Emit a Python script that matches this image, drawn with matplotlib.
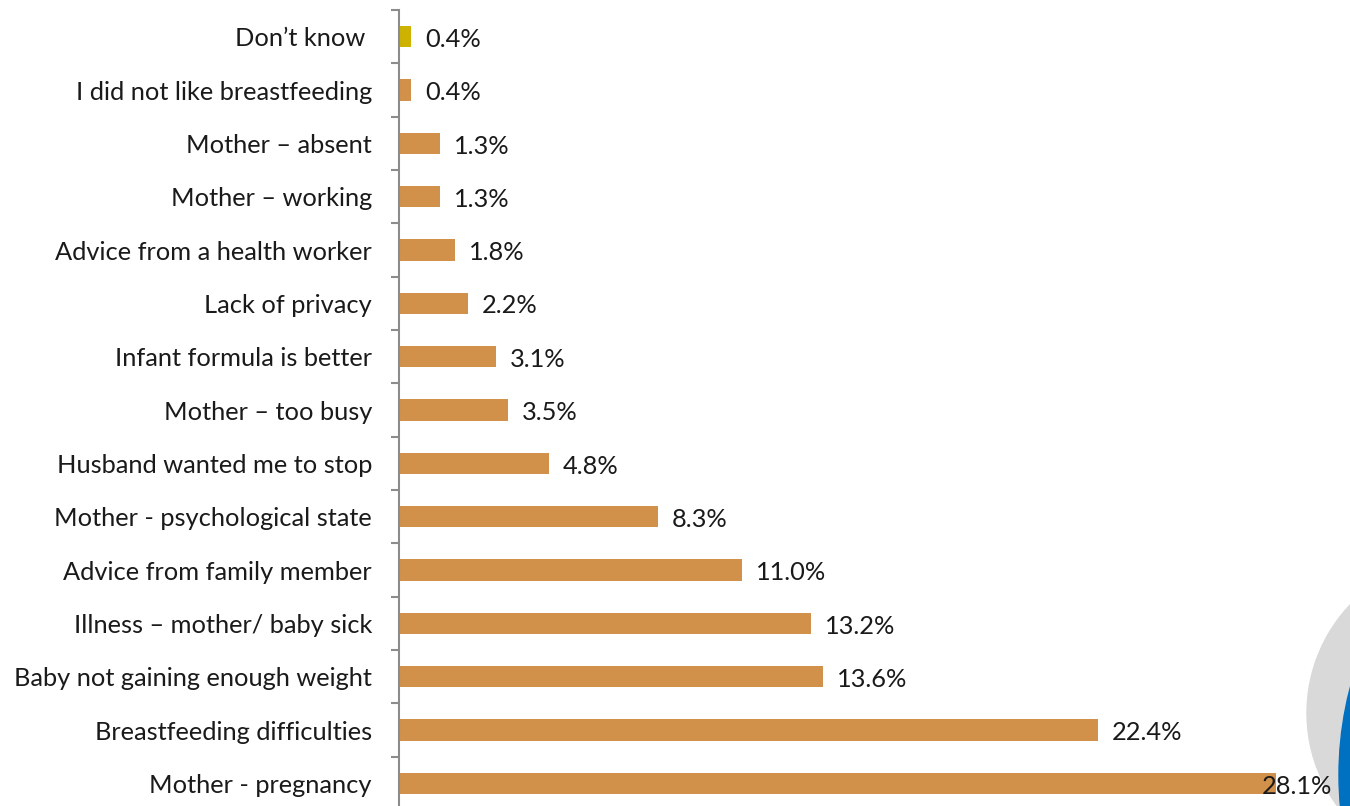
import matplotlib
matplotlib.use("Agg")
import matplotlib.pyplot as plt
from matplotlib.patches import Circle
import numpy as np

categories = ["Don\u2019t know ", "I did not like breastfeeding", "Mother \u2013 absent",
              "Mother \u2013 working", "Advice from a health worker", "Lack of privacy",
              "Infant formula is better", "Mother \u2013 too busy", "Husband wanted me to stop",
              "Mother - psychological state", "Advice from family member",
              "Illness \u2013 mother/ baby sick", "Baby not gaining enough weight",
              "Breastfeeding difficulties", "Mother - pregnancy"]
values = [0.4, 0.4, 1.3, 1.3, 1.8, 2.2, 3.1, 3.5, 4.8, 8.3, 11.0, 13.2, 13.6, 22.4, 28.1]
labels = ["0.4%", "0.4%", "1.3%", "1.3%", "1.8%", "2.2%", "3.1%", "3.5%", "4.8%",
          "8.3%", "11.0%", "13.2%", "13.6%", "22.4%", "28.1%"]
colors = ["#CDB300"] + ["#D2914B"] * 14

plt.rcParams['font.family'] = ['Lato', 'DejaVu Sans']
W, H = 1350, 806
fig = plt.figure(figsize=(W / 100, H / 100), dpi=100)

# decorative circles bottom-right
fig.patches.append(Circle((1464, H - 713), 157, transform=None, color="#D9D9D9", zorder=-2))
fig.patches.append(Circle((1684, H - 775), 345, transform=None, color="#0070C0", zorder=-1))

ax = fig.add_axes([399 / W, 1 - 810 / H, 936 / W, 800 / H])
y = np.arange(len(categories))
ax.barh(y, values, height=0.4, color=colors)
ax.set_xlim(0, 30)
ax.set_ylim(len(categories) - 0.5, -0.5)
ax.set_yticks(y)
ax.set_yticklabels(categories, fontsize=18.3, color="#1A1A1A")
ax.set_yticks(np.arange(-0.5, len(categories), 1), minor=True)
ax.tick_params(axis='y', which='major', length=0, pad=19.5)
ax.tick_params(axis='y', which='minor', length=6, width=1.5, color="#8C8C8C")
ax.set_xticks([])
for s in ['top', 'right', 'bottom']:
    ax.spines[s].set_visible(False)
ax.spines['left'].set_color("#8C8C8C")
ax.spines['left'].set_linewidth(1.5)
ax.patch.set_alpha(0)

px = 30 / 936  # data units per pixel
vmax = max(values)
for yi, v, lab in zip(y, values, labels):
    if v == vmax:
        x = v - 14 * px
    else:
        x = v + 14 * px
    ax.text(x, yi + 0.05, lab, ha='left', va='center', fontsize=18.3, color='#1A1A1A',
            clip_on=False)

fig.savefig("out.png", dpi=100)
